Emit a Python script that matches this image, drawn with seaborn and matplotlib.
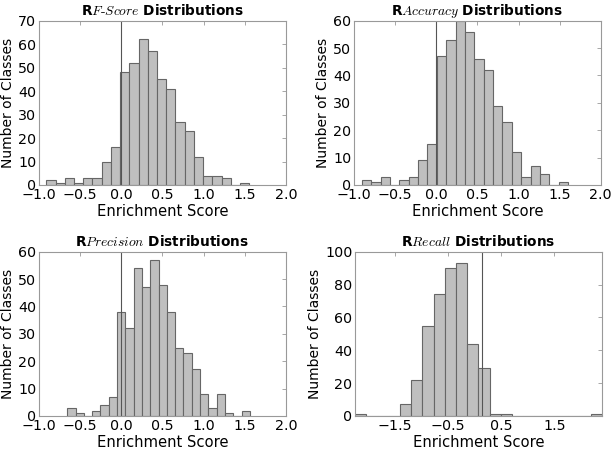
import numpy as np
import pandas as pd
import matplotlib
matplotlib.use('Agg')
import matplotlib.pyplot as plt
import seaborn as sns

# Bin counts (22 equal-width bins per panel)
fscore_range = (-0.911, 1.556)
fscore_counts = [2, 1, 3, 1, 3, 3, 10, 16, 48, 52, 62, 57, 45, 41, 27, 23, 12, 4, 4, 3, 0, 1]

accuracy_range = (-0.905, 1.602)
accuracy_counts = [2, 1, 3, 0, 2, 3, 9, 15, 47, 53, 60, 56, 46, 42, 29, 23, 12, 3, 7, 4, 0, 1]

precision_range = (-0.656, 1.563)
precision_counts = [3, 1, 0, 2, 4, 7, 38, 32, 54, 47, 57, 48, 38, 25, 23, 17, 8, 3, 8, 1, 0, 2]

recall_range = (-2.24, 2.39)
recall_counts = [1, 0, 0, 0, 7, 22, 55, 74, 90, 93, 44, 29, 1, 1, 0, 0, 0, 0, 0, 0, 0, 1]

titles = [r'R$\mathit{F\text{-}Score}$ Distributions',
          r'R$\mathit{Accuracy}$ Distributions',
          r'R$\mathit{Precision}$ Distributions',
          r'R$\mathit{Recall}$ Distributions']

sns.set_style('white')
plt.rcParams['font.family'] = ['DejaVu Sans']
plt.rcParams['mathtext.fontset'] = 'cm'
plt.rcParams['text.color'] = 'black'
plt.rcParams['axes.labelcolor'] = 'black'
plt.rcParams['xtick.color'] = 'black'
plt.rcParams['ytick.color'] = 'black'

fig = plt.figure(figsize=(6.14, 4.49), dpi=100)
positions = [[0.0635, 0.588, 0.402, 0.366],
             [0.5765, 0.588, 0.402, 0.366],
             [0.0635, 0.0735, 0.402, 0.366],
             [0.5785, 0.0735, 0.4015, 0.366]]

panels = [
    (fscore_range, fscore_counts, (-1.0, 2.0), (0, 70), np.arange(-1.0, 2.01, 0.5), np.arange(0, 71, 10), 0.0),
    (accuracy_range, accuracy_counts, (-1.0, 2.0), (0, 60), np.arange(-1.0, 2.01, 0.5), np.arange(0, 61, 10), 0.0),
    (precision_range, precision_counts, (-1.0, 2.0), (0, 60), np.arange(-1.0, 2.01, 0.5), np.arange(0, 61, 10), 0.0),
    (recall_range, recall_counts, recall_range, (0, 100), [-1.5, -0.5, 0.5, 1.5], np.arange(0, 101, 20), 0.15),
]

for pos, title, (rng, counts, xlim, ylim, xt, yt, vline) in zip(positions, titles, panels):
    ax = fig.add_axes(pos)
    df = pd.DataFrame({'score': np.linspace(rng[0], rng[1], 2 * len(counts) + 1)[1::2],
                       'n': counts})
    sns.histplot(data=df, x='score', weights='n', bins=len(counts), binrange=rng, ax=ax,
                 color='#bfbfbf', edgecolor='#666666', linewidth=0.8, alpha=1.0)
    ax.axvline(vline, color='#555555', linewidth=0.8)
    ax.set_xlim(xlim)
    ax.set_ylim(ylim)
    ax.set_xticks(xt)
    ax.set_yticks(yt)
    ax.set_xticklabels([('%.1f' % v).replace('-', '\u2212') for v in xt])
    ax.set_title(title, fontsize=9.8, fontweight='bold', pad=4)
    ax.set_xlabel('Enrichment Score', fontsize=10.6, labelpad=1.5)
    ax.set_ylabel('Number of Classes', fontsize=10, labelpad=2)
    ax.tick_params(axis='both', which='both', direction='in', length=3, width=0.6,
                   color='#999999', labelsize=10.3, top=True, right=True, pad=2)
    for s in ax.spines.values():
        s.set_color('#999999')
        s.set_linewidth(0.8)

fig.savefig('out.png', dpi=100)
